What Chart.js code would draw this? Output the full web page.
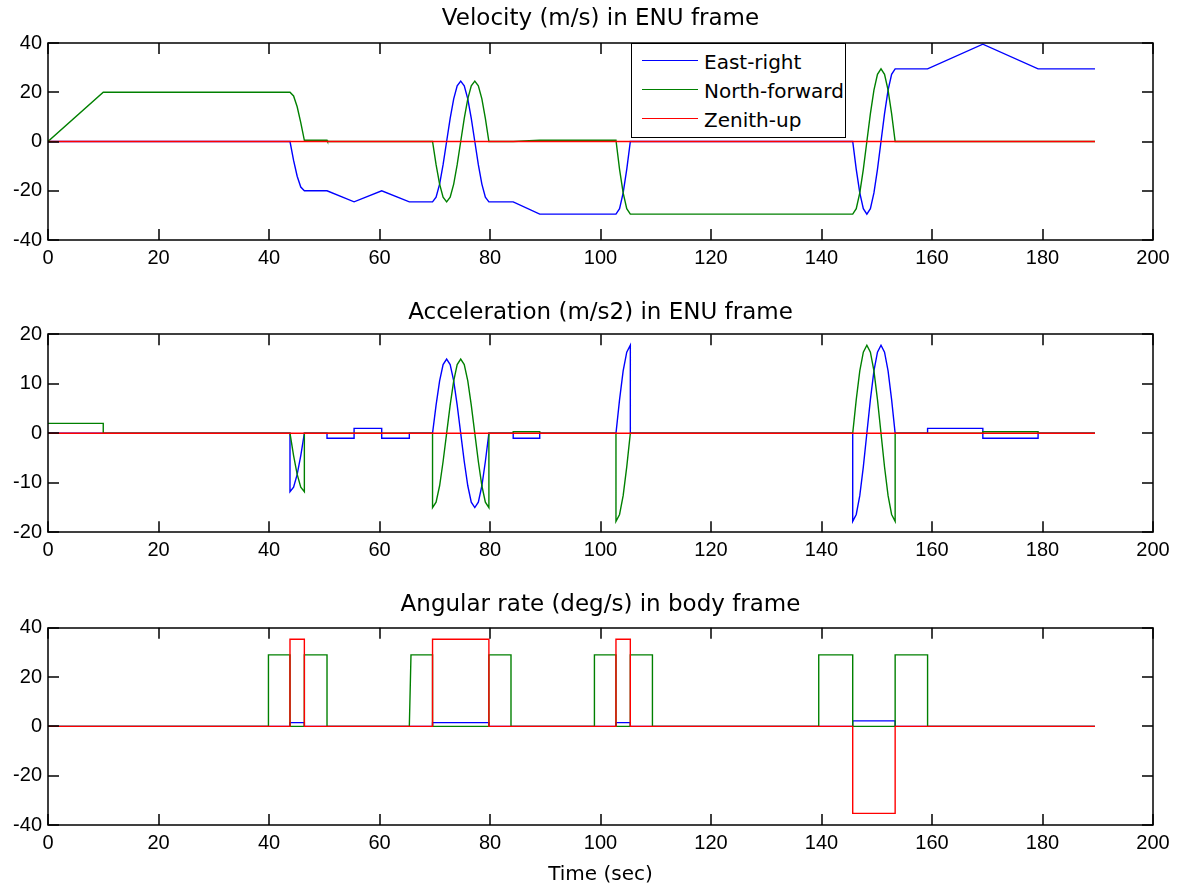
<!DOCTYPE html>
<html>
<head>
<meta charset="utf-8">
<script src="https://cdn.jsdelivr.net/npm/chart.js@4.4.1/dist/chart.umd.min.js"></script>
<style>
  html, body { margin: 0; padding: 0; background: #fff; overflow: hidden; }
  #page { position: relative; width: 1181px; height: 892px; background: #fff; }
  .box { position: absolute; left: 0; width: 1181px; }
  #legend { position: absolute; left: 631px; top: 43px; width: 215px; height: 95px; box-sizing: border-box;
            border: 1.5px solid #000; background: #fff; font-family: "DejaVu Sans", sans-serif; font-size: 20px; color: #000; }
  #legend .ln { position: absolute; left: 10px; width: 56px; height: 0; border-top: 1.5px solid; }
  #legend .tx { position: absolute; left: 72px; line-height: 24px; white-space: nowrap; }
</style>
</head>
<body>
<div id="page">
  <div class="box" style="top:0px;height:290px"><canvas id="c1"></canvas></div>
  <div class="box" style="top:290px;height:290px"><canvas id="c2"></canvas></div>
  <div class="box" style="top:580px;height:312px"><canvas id="c3"></canvas></div>
  <div id="legend"></div>
</div>
<script>
// ---------------- DATA ----------------
const seriesNames = ['East-right', 'North-forward', 'Zenith-up'];
const titles = ['Velocity (m/s) in ENU frame', 'Acceleration (m/s2) in ENU frame', 'Angular rate (deg/s) in body frame'];
const xAxisTitle = 'Time (sec)';
const xTicks = [0, 20, 40, 60, 80, 100, 120, 140, 160, 180, 200];
const velTicks = [-40, -20, 0, 20, 40];
const accTicks = [-20, -10, 0, 10, 20];
const rateTicks = [-40, -20, 0, 20, 40];

// Velocity (m/s)
const velEastT = [0, 43.8, 44.45, 45.1, 45.75, 46.4, 50.5, 55.4, 60.4, 65.4, 69.6,
  70.24, 70.88, 71.51, 72.15, 72.79, 73.43, 74.06, 74.7, 75.34, 75.98, 76.61, 77.25, 77.89, 78.53, 79.16, 79.8,
  84.2, 89.0, 102.8, 103.45, 104.1, 104.75, 105.4, 145.65,
  146.29, 146.93, 147.57, 148.21, 148.85, 149.49, 150.13, 150.77, 151.41, 152.05, 152.69, 153.33,
  159.2, 169.2, 179.2, 189.5];
const velEastV = [0, 0, -7.7, -14.1, -18.5, -20, -20, -24.5, -20, -24.5, -24.5,
  -22.6, -17.3, -9.4, 0, 9.4, 17.3, 22.6, 24.5, 22.6, 17.3, 9.4, 0, -9.4, -17.3, -22.6, -24.5,
  -24.5, -29.5, -29.5, -27.3, -20.9, -11.3, 0, 0,
  -11.3, -20.9, -27.3, -29.5, -27.3, -20.9, -11.3, 0, 11.3, 20.9, 27.3, 29.5,
  29.5, 39.5, 29.5, 29.5];
const velNorthT = [0, 10, 43.8, 44.45, 45.1, 45.75, 46.4, 50.5, 50.6, 69.6,
  70.24, 70.88, 71.51, 72.15, 72.79, 73.43, 74.06, 74.7, 75.34, 75.98, 76.61, 77.25, 77.89, 78.53, 79.16, 79.8,
  84.2, 89.0, 102.8, 103.45, 104.1, 104.75, 105.4, 145.65,
  146.29, 146.93, 147.57, 148.21, 148.85, 149.49, 150.13, 150.77, 151.41, 152.05, 152.69, 153.33, 189.5];
const velNorthV = [0, 20, 20, 18.5, 14.1, 7.7, 0.5, 0.5, 0, 0,
  -9.4, -17.3, -22.6, -24.5, -22.6, -17.3, -9.4, 0, 9.4, 17.3, 22.6, 24.5, 22.6, 17.3, 9.4, 0,
  0, 0.5, 0.5, -11.3, -20.9, -27.3, -29.5, -29.5,
  -27.3, -20.9, -11.3, 0, 11.3, 20.9, 27.3, 29.5, 27.3, 20.9, 11.3, 0, 0];
const velUpT = [0, 189.5];
const velUpV = [0, 0];

// Acceleration (m/s2)
const accEastT = [0, 43.8, 43.8, 44.45, 45.1, 45.75, 46.4,
  50.5, 50.5, 55.4, 55.4, 60.4, 60.4, 65.4, 65.4, 69.6,
  70.24, 70.88, 71.51, 72.15, 72.79, 73.43, 74.06, 74.7, 75.34, 75.98, 76.61, 77.25, 77.89, 78.53, 79.16, 79.8,
  84.2, 84.2, 89.0, 89.0, 102.8,
  103.45, 104.1, 104.75, 105.4, 105.4,
  145.65, 145.65,
  146.29, 146.93, 147.57, 148.21, 148.85, 149.49, 150.13, 150.77, 151.41, 152.05, 152.69, 153.33,
  159.2, 159.2, 169.2, 169.2, 179.2, 179.2, 189.5];
const accEastV = [0, 0, -11.8, -10.9, -8.3, -4.5, 0,
  0, -1, -1, 1, 1, -1, -1, 0, 0,
  5.7, 10.6, 13.9, 15, 13.9, 10.6, 5.7, 0, -5.7, -10.6, -13.9, -15, -13.9, -10.6, -5.7, 0,
  0, -1, -1, 0, 0,
  6.8, 12.6, 16.4, 17.8, 0,
  0, -17.8,
  -16.4, -12.6, -6.8, 0, 6.8, 12.6, 16.4, 17.8, 16.4, 12.6, 6.8, 0,
  0, 1, 1, -1, -1, 0, 0];
const accNorthT = [0, 10, 10, 43.8, 44.45, 45.1, 45.75, 46.4, 46.4, 69.6, 69.6,
  70.24, 70.88, 71.51, 72.15, 72.79, 73.43, 74.06, 74.7, 75.34, 75.98, 76.61, 77.25, 77.89, 78.53, 79.16, 79.8,
  79.8, 84.2, 84.2, 89.0, 89.0, 102.8, 102.8,
  103.45, 104.1, 104.75, 105.4, 145.65,
  146.29, 146.93, 147.57, 148.21, 148.85, 149.49, 150.13, 150.77, 151.41, 152.05, 152.69, 153.33,
  153.33, 169.2, 169.2, 179.2, 179.2, 189.5];
const accNorthV = [2, 2, 0, 0, -4.5, -8.3, -10.9, -11.8, 0, 0, -15,
  -13.9, -10.6, -5.7, 0, 5.7, 10.6, 13.9, 15, 13.9, 10.6, 5.7, 0, -5.7, -10.6, -13.9, -15,
  0, 0, 0.3, 0.3, 0, 0, -17.8,
  -16.4, -12.6, -6.8, 0, 0,
  6.8, 12.6, 16.4, 17.8, 16.4, 12.6, 6.8, 0, -6.8, -12.6, -16.4, -17.8,
  0, 0, 0.3, 0.3, 0, 0];
const accUpT = [0, 189.5];
const accUpV = [0, 0];

// Angular rate (deg/s)
const rateXT = [0, 43.8, 43.8, 46.4, 46.4, 69.6, 69.6, 79.8, 79.8, 102.8, 102.8, 105.4, 105.4, 145.65, 145.65, 153.33, 153.33, 189.5];
const rateXV = [0, 0, 1.5, 1.5, 0, 0, 1.5, 1.5, 0, 0, 1.5, 1.5, 0, 0, 2.2, 2.2, 0, 0];
const rateYT = [0, 39.9, 39.9, 43.8, 43.8, 46.4, 46.4, 50.5, 50.5, 65.4, 65.7, 69.6, 69.6, 79.8, 79.8, 83.8, 83.8,
  98.9, 98.9, 102.8, 102.8, 105.4, 105.4, 109.4, 109.4, 139.5, 139.5, 145.65, 145.65, 153.33, 153.33, 159.2, 159.2, 189.5];
const rateYV = [0, 0, 29, 29, 0, 0, 29, 29, 0, 0, 29, 29, 0, 0, 29, 29, 0,
  0, 29, 29, 0, 0, 29, 29, 0, 0, 29, 29, 0, 0, 29, 29, 0, 0];
const rateZT = [0, 43.8, 43.8, 46.4, 46.4, 69.6, 69.6, 79.8, 79.8, 102.8, 102.8, 105.4, 105.4, 145.65, 145.65, 153.33, 153.33, 189.5];
const rateZV = [0, 0, 35.3, 35.3, 0, 0, 35.3, 35.3, 0, 0, 35.3, 35.3, 0, 0, -35.3, -35.3, 0, 0];

// ---------------- STYLE ----------------
const FONT = '"DejaVu Sans", sans-serif';
const TICK_FONT = '"Liberation Sans", Arial, sans-serif';
const COLORS = ['#0000ff', '#008000', '#ff0000'];
const TICK_LEN = 11;

const matlabAxes = {
  id: 'matlabAxes',
  afterDatasetsDraw(chart) {
    const { ctx, chartArea: a, scales: { x, y } } = chart;
    ctx.save();
    ctx.strokeStyle = '#000';
    ctx.lineWidth = 1.5;
    ctx.beginPath();
    x.ticks.forEach(t => {
      const px = Math.round(x.getPixelForValue(t.value));
      ctx.moveTo(px, a.bottom); ctx.lineTo(px, a.bottom - TICK_LEN);
      ctx.moveTo(px, a.top); ctx.lineTo(px, a.top + TICK_LEN);
    });
    y.ticks.forEach(t => {
      const py = Math.round(y.getPixelForValue(t.value));
      ctx.moveTo(a.left, py); ctx.lineTo(a.left + TICK_LEN, py);
      ctx.moveTo(a.right, py); ctx.lineTo(a.right - TICK_LEN, py);
    });
    ctx.stroke();
    ctx.strokeRect(Math.round(a.left), Math.round(a.top),
                   Math.round(a.right - a.left), Math.round(a.bottom - a.top));
    ctx.restore();
  }
};

function pts(t, v) { return t.map((x, i) => ({ x: x, y: v[i] })); }

function makeChart(id, title, series, yTicks, cfg) {
  const datasets = series.map((s, i) => ({
    label: seriesNames[i],
    data: pts(s[0], s[1]),
    borderColor: COLORS[i],
    backgroundColor: COLORS[i],
    borderWidth: 1.4,
    pointRadius: 0,
    tension: 0,
    fill: false,
    order: 3 - i
  }));
  return new Chart(document.getElementById(id), {
    type: 'line',
    data: { datasets },
    plugins: [matlabAxes],
    options: {
      responsive: true,
      maintainAspectRatio: false,
      animation: false,
      events: [],
      layout: { padding: { left: 0, right: 28, top: 0, bottom: 0 } },
      plugins: {
        legend: { display: false },
        tooltip: { enabled: false },
        title: {
          display: true, text: title, color: '#000', fullSize: false,
          font: { family: FONT, size: 23, weight: 'normal', lineHeight: 1.2 },
          padding: { top: cfg.pt, bottom: cfg.pb }
        }
      },
      scales: {
        x: {
          type: 'linear', min: xTicks[0], max: xTicks[xTicks.length - 1],
          afterBuildTicks: s => { s.ticks = xTicks.map(v => ({ value: v })); },
          afterFit: s => { s.height = cfg.xh; },
          grid: { display: false, drawTicks: false },
          border: { display: false },
          ticks: { color: '#000', font: { family: TICK_FONT, size: 20 }, padding: 6, maxRotation: 0, autoSkip: false },
          title: cfg.xTitle ? {
            display: true, text: cfg.xTitle, color: '#000',
            font: { family: FONT, size: 20, lineHeight: 1.2 }, padding: { top: 0, bottom: 5 }
          } : { display: false }
        },
        y: {
          type: 'linear', min: yTicks[0], max: yTicks[yTicks.length - 1],
          afterBuildTicks: s => { s.ticks = yTicks.map(v => ({ value: v })); },
          afterFit: s => { s.width = 48; },
          grid: { display: false, drawTicks: false },
          border: { display: false },
          ticks: { color: '#000', font: { family: TICK_FONT, size: 20 }, padding: 6, autoSkip: false }
        }
      }
    }
  });
}

makeChart('c1', titles[0], [[velEastT, velEastV], [velNorthT, velNorthV], [velUpT, velUpV]], velTicks,
  { pt: 5, pb: 10.4, xh: 50 });
makeChart('c2', titles[1], [[accEastT, accEastV], [accNorthT, accNorthV], [accUpT, accUpV]], accTicks,
  { pt: 9.5, pb: 7.2, xh: 47.7 });
makeChart('c3', titles[2], [[rateXT, rateXV], [rateYT, rateYV], [rateZT, rateZV]], rateTicks,
  { pt: 11, pb: 9.1, xh: 67, xTitle: xAxisTitle });

// Legend (top plot)
const lg = document.getElementById('legend');
const rowTops = [16, 45.3, 74.3];
seriesNames.forEach((name, i) => {
  const ln = document.createElement('div');
  ln.className = 'ln';
  ln.style.top = rowTops[i] + 'px';
  ln.style.borderTopColor = COLORS[i];
  lg.appendChild(ln);
  const tx = document.createElement('div');
  tx.className = 'tx';
  tx.style.top = (rowTops[i] - 10) + 'px';
  tx.textContent = name;
  lg.appendChild(tx);
});
</script>
</body>
</html>
